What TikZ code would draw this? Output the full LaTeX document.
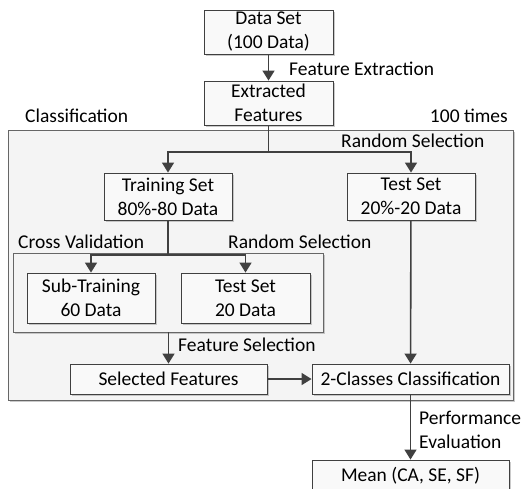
\documentclass[tikz,border=0pt]{standalone}
\usepackage{fontspec}
\setmainfont{Carlito}
\usetikzlibrary{arrows.meta,shadows}
\definecolor{ln}{HTML}{404040}
\definecolor{boxfill}{HTML}{F9F9F9}
\definecolor{outerfill}{HTML}{F4F4F4}
\tikzset{
  box/.style={draw=ln, line width=0.9pt, fill=boxfill, align=center, inner sep=0pt,
    font=\fontsize{19.5}{24}\selectfont,
    drop shadow={shadow xshift=2pt, shadow yshift=-2pt, fill=black!35, opacity=0.6}},
  frame/.style={draw=ln!80, line width=0.9pt, fill=outerfill, inner sep=0pt,
    drop shadow={shadow xshift=2pt, shadow yshift=-2pt, fill=black!35, opacity=0.6}},
  lbl/.style={font=\fontsize{19.5}{24}\selectfont, inner sep=0pt, align=left},
  conn/.style={draw=ln, line width=1.6pt, -{Triangle[width=12pt,length=10pt]}},
  plain/.style={draw=ln, line width=1.6pt}
}
\begin{document}
\begin{tikzpicture}[x=1pt,y=-1pt]
\useasboundingbox (0,0) rectangle (532,488);
% frames
\node[frame, minimum width=505pt, minimum height=270pt] (outer) at (260.5,265) {};
\node[frame, minimum width=310pt, minimum height=79pt] (inner) at (168,292.5) {};
% boxes
\node[box, minimum width=129pt, minimum height=44pt] (data) at (268.5,32) {Data Set\\(100 Data)};
\node[box, minimum width=129pt, minimum height=44pt] (ext) at (268.5,103) {Extracted\\Features};
\node[box, minimum width=128pt, minimum height=47pt] (train) at (168,196.5) {Training Set\\80\%-80 Data};
\node[box, minimum width=128pt, minimum height=47pt] (test) at (411,196.5) {Test Set\\20\%-20 Data};
\node[box, minimum width=128pt, minimum height=50pt] (sub) at (91,298) {Sub-Training\\60 Data};
\node[box, minimum width=129pt, minimum height=50pt] (testb) at (245.5,298) {Test Set\\20 Data};
\node[box, minimum width=197pt, minimum height=30pt] (sel) at (168.5,379) {Selected Features};
\node[box, minimum width=197pt, minimum height=30pt] (cls) at (410.5,379) {2-Classes Classification};
\node[box, minimum width=197pt, minimum height=32pt] (mean) at (410.5,476) {Mean (CA, SE, SF)};
% labels
\node[lbl, anchor=west] (lfe) at (289,69) {Feature Extraction};
\node[lbl, anchor=west] (lcl) at (25,116) {Classification};
\node[lbl, anchor=east] (l100) at (508,116) {100 times};
\node[lbl, anchor=west] (lrs1) at (341,141) {Random Selection};
\node[lbl, anchor=west] (lcv) at (18,242) {Cross Validation};
\node[lbl, anchor=west] (lrs2) at (228,242) {Random Selection};
\node[lbl, anchor=west] (lfs) at (178,345) {Feature Selection};
\node[lbl, anchor=west] (lpe) at (419,429.5) {Performance\\Evaluation};
% connectors
\coordinate (j1) at (268.5,152);
\coordinate (j2) at (168,255);
\draw[conn] (data) -- (ext);
\draw[plain] (ext) -- (j1);
\draw[conn] (j1) -| (train);
\draw[conn] (j1) -| (test);
\draw[plain] (train) -- (j2);
\draw[conn] (j2) -| (sub);
\draw[conn] (j2) -| (testb);
\draw[conn] (sel.north |- inner.south) -- (sel.north);
\draw[conn] (test) -- (cls);
\draw[conn] (sel) -- (cls);
\draw[conn] (cls) -- (mean);
\end{tikzpicture}
\end{document}
